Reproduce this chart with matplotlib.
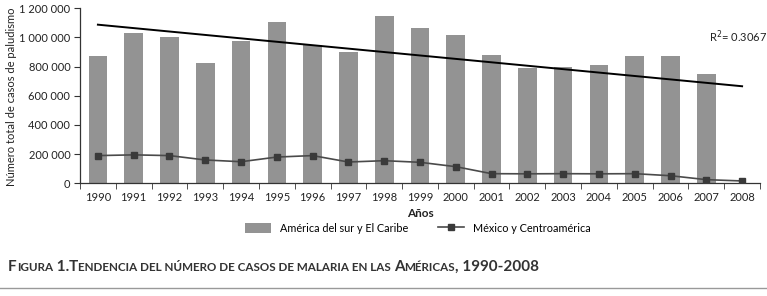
import numpy as np
import matplotlib
matplotlib.use("Agg")
import matplotlib.pyplot as plt
from matplotlib.lines import Line2D
from matplotlib.patches import Patch

years = ["1990", "1991", "1992", "1993", "1994", "1995", "1996", "1997", "1998", "1999",
         "2000", "2001", "2002", "2003", "2004", "2005", "2006", "2007", "2008"]
sur_caribe = [870000, 1030000, 1000000, 825000, 975000, 1105000, 945000, 900000, 1145000,
              1068000, 1020000, 880000, 790000, 800000, 810000, 870000, 872000, 750000, 0]
mexico_ca = [190000, 195000, 190000, 160000, 148000, 180000, 190000, 146000, 155000,
             144000, 114000, 66000, 65000, 66000, 65000, 66000, 52000, 25000, 16000]
yticks = [0, 200000, 400000, 600000, 800000, 1000000, 1200000]
ytick_labels = ["0", "200 000", "400 000", "600 000", "800 000", "1 000 000", "1 200 000"]
r2_label = "R$^2$= 0.3067"

plt.rcParams['font.family'] = ['Lato', 'DejaVu Sans']

W, H = 767, 296
fig = plt.figure(figsize=(W / 100, H / 100), dpi=100)
ax = fig.add_axes([80 / W, 1 - 183.3 / H, 680 / W, 175 / H])

x = np.arange(len(years))
bar_color = "#939393"
ax.bar(x, sur_caribe, width=0.52, color=bar_color, zorder=1)

# linear trend of bar series
coef = np.polyfit(x, sur_caribe, 1)
ax.plot(x, np.polyval(coef, x), color="black", lw=1.4, zorder=3)

ax.plot(x, mexico_ca, color="#4a4a4a", lw=1.2, marker="s", markersize=5,
        markerfacecolor="#3a3a3a", markeredgecolor="#3a3a3a", zorder=4)

ax.set_xlim(-0.5, len(years) - 0.5)
ax.set_ylim(0, 1200000)
ax.set_yticks(yticks)
ax.set_yticklabels(ytick_labels, fontsize=8, color="#222222")
ax.set_xticks(x)
ax.set_xticklabels(years, fontsize=8, color="#222222")
ax.tick_params(axis='x', length=0, pad=6)
ax.set_xticks(np.arange(-0.5, len(years), 1), minor=True)
ax.tick_params(axis='x', which='minor', length=4, direction='out', color="#333333")
ax.tick_params(axis='y', length=4, direction='out', color="#333333", pad=3)
for s in ["top", "right"]:
    ax.spines[s].set_visible(False)
for s in ["left", "bottom"]:
    ax.spines[s].set_color("#333333")
    ax.spines[s].set_linewidth(0.9)

ax.set_xlabel("Años", fontsize=8.5, fontweight="bold", labelpad=4, color="#222222")
fig.text(12 / W, 1 - 97 / H, "Número total de casos de paludismo", rotation=90,
         fontsize=8, ha="center", va="center", color="#222222")

fig.text(767 / W, 1 - 37 / H, r2_label, fontsize=8, ha="right", va="center", color="#222222")

handles = [Patch(facecolor=bar_color, edgecolor="none"),
           Line2D([0], [0], color="#4a4a4a", lw=1.2, marker="s", markersize=5,
                  markerfacecolor="#3a3a3a", markeredgecolor="#3a3a3a")]
labels = ["América del sur y El Caribe", "México y Centroamérica"]
fig.legend(handles, labels, loc="center", bbox_to_anchor=(418 / W, 1 - 228 / H),
           ncol=2, frameon=False, fontsize=7.8, handlelength=2.4, handleheight=1.0,
           columnspacing=2.8, handletextpad=0.8)

# small caps caption
pieces = [("F", 11), ("IGURA", 8.4), (" 1.", 11), ("T", 11),
          ("ENDENCIA DEL NÚMERO DE CASOS DE MALARIA EN LAS ", 8.4), ("A", 11),
          ("MÉRICAS", 8.4), (", 1990-2008", 11)]
fig.canvas.draw()
renderer = fig.canvas.get_renderer()
xpos = 8 / W
ybase = 1 - 271 / H
for txt, sz in pieces:
    t = fig.text(xpos, ybase, txt, fontsize=sz, fontweight="bold", color="#333333",
                 ha="left", va="baseline")
    bb = t.get_window_extent(renderer=renderer)
    xpos = bb.x1 / W

fig.add_artist(Line2D([0, 1], [1 - 288 / H, 1 - 288 / H], color="#999999", lw=1.0,
                      transform=fig.transFigure))

fig.savefig("out.png", dpi=100)
